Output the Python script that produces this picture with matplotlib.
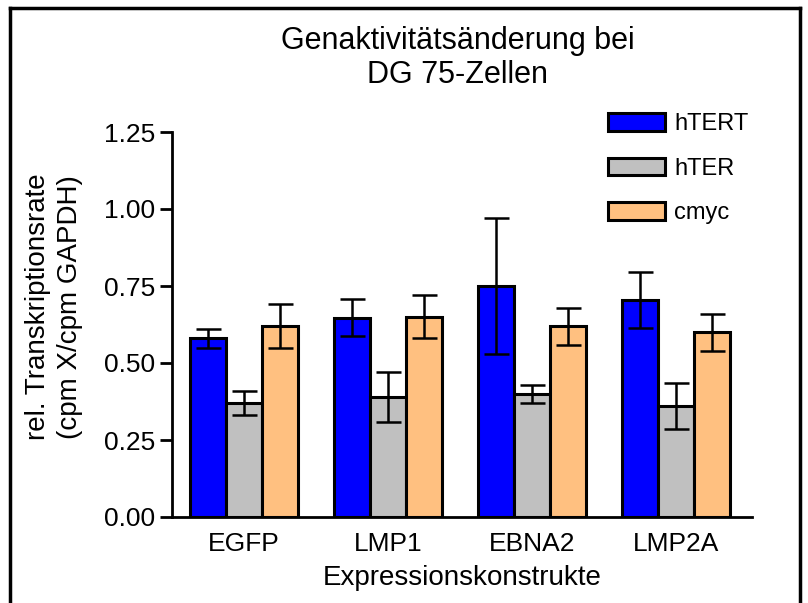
import matplotlib
matplotlib.use("Agg")
import matplotlib.pyplot as plt
import numpy as np
from matplotlib.lines import Line2D

plt.rcParams['font.family'] = ['Liberation Sans', 'DejaVu Sans']

categories = ["EGFP", "LMP1", "EBNA2", "LMP2A"]
series_names = ["hTERT", "hTER", "cmyc"]
htert = [0.58, 0.647, 0.75, 0.705]
htert_err = [0.03, 0.06, 0.22, 0.09]
hter = [0.37, 0.39, 0.40, 0.36]
hter_err = [0.04, 0.08, 0.03, 0.074]
cmyc = [0.62, 0.65, 0.62, 0.60]
cmyc_err = [0.07, 0.07, 0.06, 0.06]
yticks = [0.00, 0.25, 0.50, 0.75, 1.00, 1.25]

colors = ["#0000FF", "#C0C0C0", "#FFC080"]

fig = plt.figure(figsize=(8.08, 6.03), dpi=100)
ax = fig.add_axes([172/808, 86/603, 580/808, 385/603])

x = np.arange(len(categories))
w = 0.25
for i, (vals, errs, name) in enumerate(zip([htert, hter, cmyc], [htert_err, hter_err, cmyc_err], series_names)):
    ax.bar(x + (i - 1) * w, vals, w, color=colors[i], edgecolor="black", linewidth=2.2, label=name, zorder=2)
    ax.errorbar(x + (i - 1) * w, vals, yerr=errs, fmt="none", ecolor="black", elinewidth=1.8,
                capsize=9, capthick=1.8, zorder=3)

ax.set_xlim(-0.5, 3.53)
ax.set_ylim(0, 1.25)
ax.set_yticks(yticks)
ax.set_yticklabels([f"{v:.2f}" for v in yticks], fontsize=19)
ax.set_xticks(x)
ax.set_xticklabels(categories, fontsize=19)
ax.tick_params(axis="x", length=0, pad=11)
ax.tick_params(axis="y", length=9, width=2, direction="out", pad=3)
for s in ["top", "right"]:
    ax.spines[s].set_visible(False)
for s in ["left", "bottom"]:
    ax.spines[s].set_linewidth(2)
ax.set_xlabel("Expressionskonstrukte", fontsize=20, labelpad=6)
ax.set_ylabel("rel. Transkriptionsrate\n(cpm X/cpm GAPDH)", fontsize=20, linespacing=1.3)
ax.yaxis.set_label_coords(-0.153, 0.545)

fig.text(458/808, 1 - 58/603, "Genaktivitätsänderung bei\nDG 75-Zellen", ha="center", va="center",
         fontsize=22, linespacing=1.15)

leg = ax.legend(loc="upper left", bbox_to_anchor=(587/808, 1 - 92/603), bbox_transform=fig.transFigure,
                frameon=False, fontsize=17, handlelength=2.4, handleheight=0.75, labelspacing=0.95,
                handletextpad=0.4)

# figure border
for (xs, ys) in [([10/808, 10/808], [0, 1 - 8/603]), ([10/808, 800/808], [1 - 8/603, 1 - 8/603]),
                 ([800/808, 800/808], [1 - 8/603, 0])]:
    fig.add_artist(Line2D(xs, ys, color="black", linewidth=2.5, transform=fig.transFigure))

fig.savefig("out.png", dpi=100)
